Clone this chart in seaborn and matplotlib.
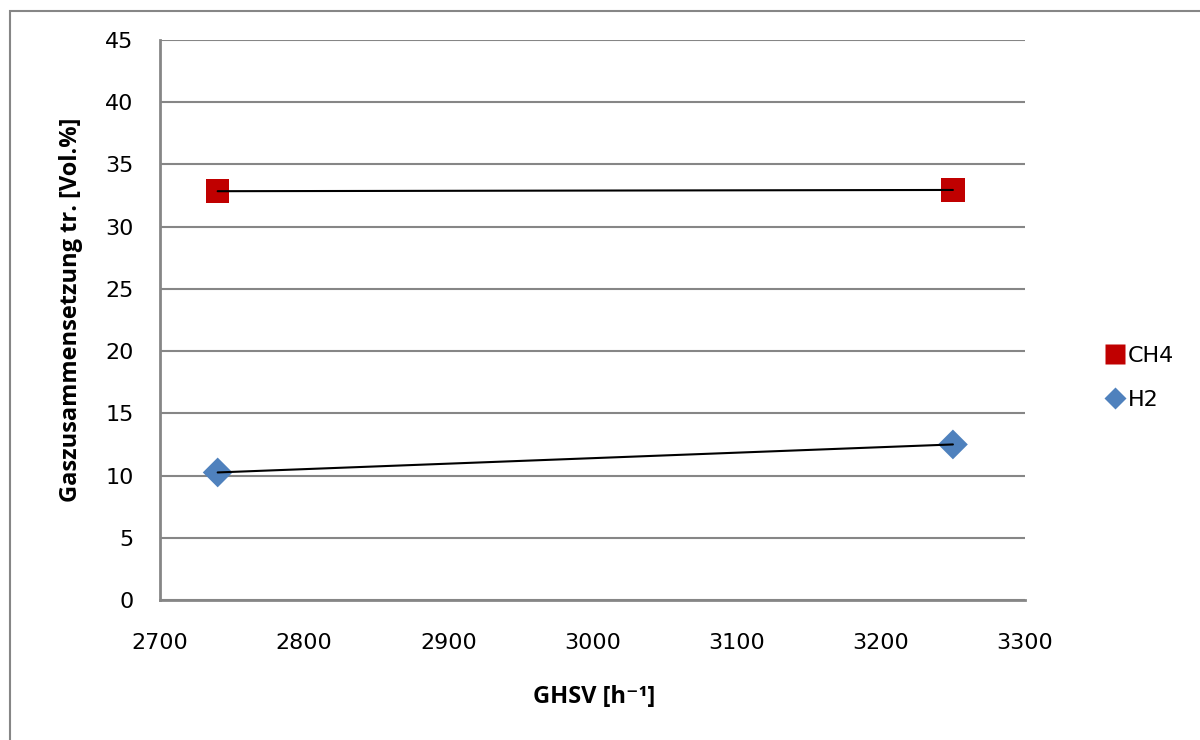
import pandas as pd
import seaborn as sns
import matplotlib.pyplot as plt
from matplotlib.patches import Rectangle

ghsv = [2740, 3250]
ch4 = [32.85, 32.95]
h2 = [10.25, 12.5]
series_names = ["CH4", "H2"]

df = pd.DataFrame({
    "GHSV": ghsv * 2,
    "value": ch4 + h2,
    "gas": [series_names[0]] * len(ghsv) + [series_names[1]] * len(ghsv),
})

sns.set_style("white")
plt.rcParams['font.family'] = ['DejaVu Sans']
plt.rcParams['text.color'] = 'black'

fig = plt.figure(figsize=(12, 7.4), dpi=100)
ax = fig.add_axes([160 / 1200, 140 / 740, 865 / 1200, 560 / 740])

grid_col = "#868686"
colors = {"CH4": "#C00000", "H2": "#4F81BD"}
markers = {"CH4": "s", "H2": "D"}

# markers first, black connecting lines on top (as in the original)
for gas in series_names:
    sub = df[df["gas"] == gas]
    sns.scatterplot(data=sub, x="GHSV", y="value", ax=ax, color=colors[gas],
                    marker=markers[gas], s=290 if gas == "CH4" else 230,
                    edgecolor="none", zorder=3, label=gas, legend=False)
    sns.lineplot(data=sub, x="GHSV", y="value", ax=ax, color="black",
                 linewidth=1.5, zorder=4, legend=False)

ax.set_xlim(2700, 3300)
ax.set_ylim(0, 45)
ax.set_xticks(range(2700, 3301, 100))
ax.set_yticks(range(0, 46, 5))
ax.yaxis.grid(True, color=grid_col, linewidth=1.5)
ax.set_axisbelow(True)
ax.tick_params(axis="both", labelsize=16, length=0, colors="black")
ax.tick_params(axis="x", pad=24)
ax.tick_params(axis="y", pad=19)

for side in ["top", "right"]:
    ax.spines[side].set_visible(False)
for side in ["left", "bottom"]:
    ax.spines[side].set_color(grid_col)
    ax.spines[side].set_linewidth(2)

ax.set_xlabel("")
ax.set_ylabel("")
label_font = ['Open Sans', 'DejaVu Sans']
fig.text(594 / 1200, 1 - 697 / 740, "GHSV [h⁻¹]", ha="center", va="center",
         fontsize=17, fontweight="bold", family=label_font, color="black")
fig.text(71 / 1200, 1 - 310 / 740, "Gaszusammensetzung tr. [Vol.%]", ha="center", va="center",
         rotation=90, fontsize=17, fontweight="bold", family=label_font, color="black")

handles = [
    plt.Line2D([], [], marker="s", color="none", markerfacecolor=colors["CH4"],
               markeredgecolor="none", markersize=14),
    plt.Line2D([], [], marker="D", color="none", markerfacecolor=colors["H2"],
               markeredgecolor="none", markersize=11),
]
fig.legend(handles, series_names, loc="center left", bbox_to_anchor=(1088 / 1200, 1 - 378 / 740),
           frameon=False, fontsize=16, handlelength=0.6, handletextpad=0.3, labelspacing=1.1,
           labelcolor="black")

# outer chart border (only top and left visible in the original crop)
fig.patches.append(Rectangle((10 / 1200, -0.05), 1.2, (740 - 11) / 740 + 0.05,
                             transform=fig.transFigure, fill=False,
                             edgecolor=grid_col, linewidth=1.5))

fig.savefig("out.png", dpi=100)
